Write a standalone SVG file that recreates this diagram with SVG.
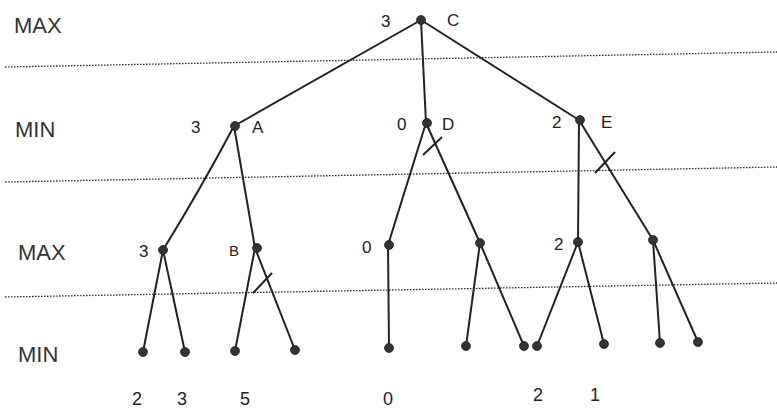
<svg xmlns="http://www.w3.org/2000/svg" width="777" height="409" viewBox="0 0 777 409">
<style>
.lvl{font-family:"Liberation Sans",Arial,sans-serif;font-size:22px;fill:#333}
.lab{font-family:"Liberation Sans",Arial,sans-serif;font-size:17px;fill:#222}
.val{font-family:"Liberation Sans",Arial,sans-serif;font-size:18px;fill:#222}
.dot{fill:#333;stroke:#222;stroke-width:0.8}
.edge{stroke:#222;stroke-width:2;fill:none;stroke-linecap:round}
.cut{stroke:#222;stroke-width:2;fill:none}
.sep{stroke:#333;stroke-width:1.3;stroke-dasharray:1.6 1.4;fill:none}
</style>
<rect width="777" height="409" fill="#fff"/>
<g id="separators">
<line class="sep" x1="5" y1="67" x2="777" y2="52"/>
<line class="sep" x1="5" y1="182" x2="777" y2="167"/>
<line class="sep" x1="5" y1="297" x2="777" y2="283"/>
</g>
<g id="levels">
<text class="lvl" x="14" y="33">MAX</text>
<text class="lvl" x="15" y="137">MIN</text>
<text class="lvl" x="18" y="260">MAX</text>
<text class="lvl" x="18" y="362">MIN</text>
</g>
<g id="connectors">
<line class="edge" x1="421" y1="20" x2="234" y2="126"/>
<line class="edge" x1="421" y1="20" x2="426" y2="123"/>
<line class="edge" x1="421" y1="20" x2="579" y2="120"/>
<path class="edge" d="M234 126 Q200 190 163 250"/>
<line class="edge" x1="234" y1="126" x2="255" y2="248"/>
<line class="edge" x1="426" y1="123" x2="388" y2="245"/>
<line class="edge" x1="426" y1="123" x2="480" y2="243"/>
<line class="edge" x1="579" y1="120" x2="578" y2="242"/>
<line class="edge" x1="579" y1="120" x2="653" y2="240"/>
<line class="edge" x1="163" y1="250" x2="143" y2="352"/>
<line class="edge" x1="163" y1="250" x2="185" y2="352"/>
<line class="edge" x1="255" y1="248" x2="235" y2="351"/>
<line class="edge" x1="255" y1="248" x2="295" y2="350"/>
<line class="edge" x1="388" y1="245" x2="389" y2="348"/>
<line class="edge" x1="480" y1="243" x2="466" y2="346"/>
<line class="edge" x1="480" y1="243" x2="524" y2="346"/>
<line class="edge" x1="578" y1="242" x2="537" y2="346"/>
<line class="edge" x1="578" y1="242" x2="604" y2="344"/>
<line class="edge" x1="653" y1="240" x2="660" y2="343"/>
<line class="edge" x1="653" y1="240" x2="698" y2="342"/>
<line class="cut" x1="423" y1="155" x2="442" y2="137"/>
<line class="cut" x1="595" y1="173" x2="615" y2="152"/>
<line class="cut" x1="253" y1="293" x2="272" y2="273"/>
</g>
<g id="node-C"><circle class="dot" cx="421" cy="20" r="4.5"/><text class="lab" x="381" y="27">3</text><text class="lab" x="447" y="26">C</text></g>
<g id="node-A"><circle class="dot" cx="235" cy="126" r="4.5"/><text class="lab" x="191" y="133">3</text><text class="lab" x="252" y="133">A</text></g>
<g id="node-D"><circle class="dot" cx="427" cy="123" r="4.5"/><text class="lab" x="397" y="130">0</text><text class="lab" x="442" y="130">D</text></g>
<g id="node-E"><circle class="dot" cx="580" cy="120" r="4.5"/><text class="lab" x="552" y="128">2</text><text class="lab" x="601" y="128">E</text></g>
<g id="node-A1"><circle class="dot" cx="163" cy="250" r="4.5"/><text class="lab" x="139" y="257">3</text></g>
<g id="node-B"><circle class="dot" cx="257" cy="248" r="4.5"/><text class="lab" x="229" y="256" style="font-size:15px">B</text></g>
<g id="node-D1"><circle class="dot" cx="389" cy="245" r="4.5"/><text class="lab" x="362" y="253">0</text></g>
<g id="node-D2"><circle class="dot" cx="480" cy="243" r="4.5"/></g>
<g id="node-E1"><circle class="dot" cx="578" cy="242" r="4.5"/><text class="lab" x="554" y="250">2</text></g>
<g id="node-E2"><circle class="dot" cx="653" cy="240" r="4.5"/></g>
<g id="leaf-1"><circle class="dot" cx="143" cy="352" r="4.5"/><text class="val" x="132" y="405">2</text></g>
<g id="leaf-2"><circle class="dot" cx="185" cy="352" r="4.5"/><text class="val" x="177" y="405">3</text></g>
<g id="leaf-3"><circle class="dot" cx="235" cy="351" r="4.5"/><text class="val" x="240" y="405">5</text></g>
<g id="leaf-4"><circle class="dot" cx="295" cy="350" r="4.5"/></g>
<g id="leaf-5"><circle class="dot" cx="389" cy="348" r="4.5"/><text class="val" x="383" y="405">0</text></g>
<g id="leaf-6"><circle class="dot" cx="466" cy="346" r="4.5"/></g>
<g id="leaf-7"><circle class="dot" cx="524" cy="346" r="4.5"/></g>
<g id="leaf-8"><circle class="dot" cx="537" cy="346" r="4.5"/><text class="val" x="533" y="401">2</text></g>
<g id="leaf-9"><circle class="dot" cx="604" cy="344" r="4.5"/><text class="val" x="590" y="401">1</text></g>
<g id="leaf-10"><circle class="dot" cx="660" cy="343" r="4.5"/></g>
<g id="leaf-11"><circle class="dot" cx="698" cy="342" r="4.5"/></g>
</svg>
